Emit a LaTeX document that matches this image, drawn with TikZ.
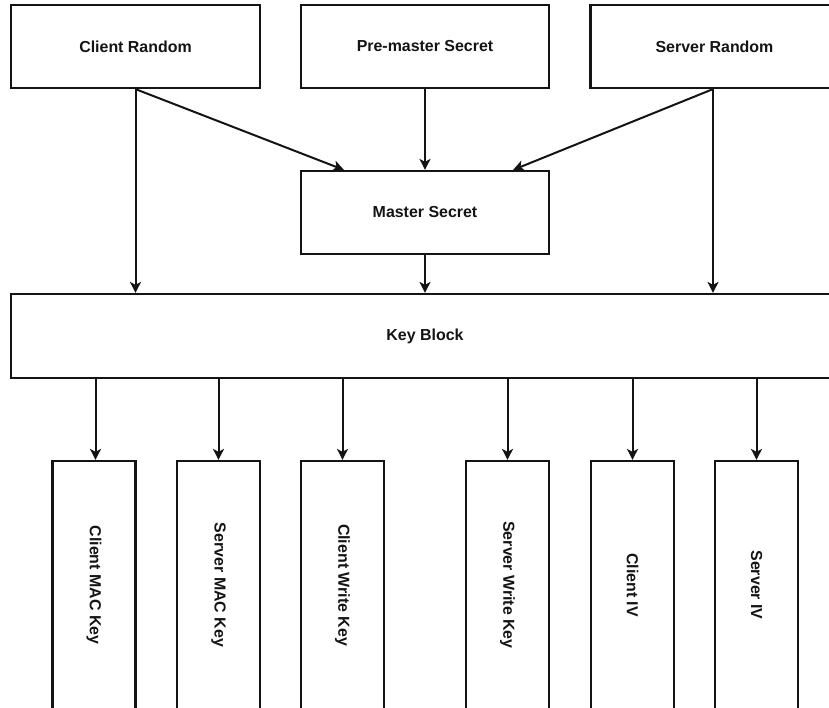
\documentclass[tikz,border=0pt]{standalone}
\usepackage{fontspec}
\setmainfont{Liberation Sans}
\usetikzlibrary{arrows.meta}
\definecolor{ink}{HTML}{141414}
\tikzset{
  box/.style={draw=ink, line width=2.2bp, fill=white, inner sep=0pt,
    font=\bfseries\fontsize{16}{19}\selectfont, text=ink},
  hbox/.style={box, minimum width=248bp, minimum height=83bp},
  vbox/.style={box, minimum width=83bp, minimum height=248bp},
  flow/.style={draw=ink, line width=2bp,
    -{Stealth[length=11bp, width=11bp, inset=3bp]}}
}
\begin{document}
\begin{tikzpicture}[x=1bp, y=-1bp]
  \useasboundingbox (0,0) rectangle (829,708);
  \clip (0,0) rectangle (829,708);

  % inputs
  \node[hbox, minimum width=249bp] (cr) at (135.5,46.5) {Client Random};
  \node[hbox] (pm) at (425,46.5) {Pre-master Secret};
  \node[hbox] (sr) at (714.5,46.5) {Server Random};

  % derived secrets
  \node[hbox] (ms) at (425,212.5) {Master Secret};
  \node[box, minimum width=828bp, minimum height=84bp] (kb) at (425,336) {Key Block};

  % key material
  \node[vbox] (k1) at (94,585) {\rotatebox{-90}{Client MAC Key}};
  \node[vbox] (k2) at (218.5,585) {\rotatebox{-90}{Server MAC Key}};
  \node[vbox] (k3) at (342.5,585) {\rotatebox{-90}{Client Write Key}};
  \node[vbox] (k4) at (507.5,585) {\rotatebox{-90}{Server Write Key}};
  \node[vbox] (k5) at (632.5,585) {\rotatebox{-90}{Client IV}};
  \node[vbox] (k6) at (756.5,585) {\rotatebox{-90}{Server IV}};

  % connectors
  \draw[flow] (cr.south) -- ([xshift=44bp]ms.north west);
  \draw[flow] (pm.south) -- (ms.north);
  \draw[flow] ([xshift=-1.5bp]sr.south) -- ([xshift=-37bp]ms.north east);
  \draw[flow] (cr.south) -- (cr.south |- kb.north);
  \draw[flow] ([xshift=-1.5bp]sr.south) -- ([xshift=-1.5bp]sr.south |- kb.north);
  \draw[flow] (ms.south) -- (kb.north);
  \foreach \k/\dx in {k1/1.5,k2/0,k3/0,k4/0,k5/0,k6/0}
    \draw[flow] ([xshift=\dx bp]kb.south -| \k.north) -- ([xshift=\dx bp]\k.north);
\end{tikzpicture}
\end{document}
